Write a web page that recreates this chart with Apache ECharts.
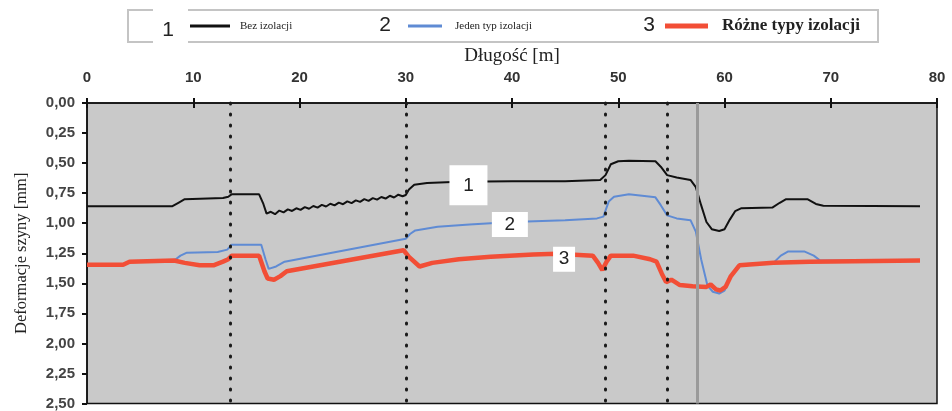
<!DOCTYPE html>
<html>
<head>
<meta charset="utf-8">
<script src="https://cdn.jsdelivr.net/npm/echarts@6/dist/echarts.min.js"></script>
<style>
  html, body { margin: 0; padding: 0; background: #fff; }
  #chart { width: 952px; height: 411px; }
</style>
</head>
<body>
<div id="chart"></div>
<script>
// dlugosc [m] i deformacja [mm]
var xTicks = [0, 10, 20, 30, 40, 50, 60, 70, 80];
var yTicks = [0, 0.25, 0.5, 0.75, 1, 1.25, 1.5, 1.75, 2, 2.25, 2.5];
var seriesNames = ['Bez izolacji', 'Jeden typ izolacji', 'Różne typy izolacji'];

var blackX = [0, 8.0, 8.6, 9.2, 12.8, 13.3, 13.6, 16.2, 16.6, 16.9,
  17.3, 17.7, 18.1, 18.5, 18.9, 19.3, 19.7, 20.1, 20.5, 20.9, 21.3, 21.7, 22.1,
  22.5, 22.9, 23.3, 23.7, 24.1, 24.5, 24.9, 25.3, 25.7, 26.1, 26.5, 26.9, 27.3,
  27.7, 28.1, 28.5, 28.9, 29.3, 29.7, 30.0,
  30.3, 30.8, 32, 35, 40, 45, 48.3, 48.8, 49.3, 50, 51, 53.5, 54.0, 54.6, 55.5,
  56.8, 57.3, 57.8, 58.3, 58.8, 59.5, 60.0, 60.5, 61.0, 61.6, 64.5, 65.2, 65.8,
  67.8, 68.6, 69.3, 78.4];
var blackY = [0.86, 0.86, 0.83, 0.80, 0.79, 0.78, 0.76, 0.76, 0.84, 0.92,
  0.905, 0.925, 0.895, 0.91, 0.885, 0.898, 0.876, 0.889, 0.866, 0.880, 0.857, 0.870, 0.848,
  0.861, 0.838, 0.852, 0.829, 0.842, 0.819, 0.833, 0.810, 0.823, 0.800, 0.814, 0.791, 0.804,
  0.782, 0.795, 0.772, 0.786, 0.763, 0.776, 0.765,
  0.72, 0.68, 0.665, 0.655, 0.65, 0.65, 0.64, 0.60, 0.51, 0.485, 0.48, 0.485, 0.53, 0.60, 0.62,
  0.64, 0.70, 0.85, 0.99, 1.05, 1.065, 1.05, 0.97, 0.90, 0.875, 0.87, 0.83, 0.80,
  0.80, 0.84, 0.855, 0.86];

var blueX = [0, 3.4, 4.0, 8.2, 8.8, 9.4, 12.3, 13.2, 13.6, 16.4, 16.8, 17.1, 17.8,
  18.6, 30.0, 30.4, 30.9, 33, 36, 40, 45, 48.0, 48.6, 49.1, 49.6, 51, 53.5, 54.0,
  54.6, 55.5, 56.8, 57.3, 57.8, 58.4, 58.9, 59.5, 60.0, 60.5, 61.2, 62, 64.6, 65.3,
  66, 67.5, 68.4, 69, 78.4];
var blueY = [1.345, 1.345, 1.32, 1.31, 1.27, 1.245, 1.24, 1.22, 1.18, 1.18, 1.30, 1.38, 1.36,
  1.32, 1.13, 1.09, 1.06, 1.03, 1.01, 0.99, 0.975, 0.96, 0.945, 0.82, 0.78, 0.76, 0.785, 0.85,
  0.935, 0.96, 0.975, 1.07, 1.30, 1.52, 1.57, 1.585, 1.56, 1.46, 1.36, 1.34, 1.33, 1.27,
  1.235, 1.235, 1.27, 1.31, 1.31];

var redX = [0, 3.4, 4.0, 8.2, 9.2, 10.6, 11.9, 12.8, 13.3, 13.6, 16.2, 16.7, 17.0, 17.6,
  18.2, 18.8, 29.8, 30.3, 31.3, 32.5, 35, 38, 42, 44.2, 47.6, 48.1, 48.5, 48.9, 49.3,
  51.4, 53.0, 53.6, 54.1, 54.5, 55.0, 55.8, 57, 58.3, 58.7, 59.2, 59.6, 60.1, 60.6,
  61.4, 64.6, 68, 78.4];
var redY = [1.345, 1.345, 1.32, 1.31, 1.33, 1.35, 1.35, 1.32, 1.30, 1.27, 1.27, 1.40, 1.46, 1.47,
  1.44, 1.40, 1.225, 1.28, 1.36, 1.33, 1.30, 1.28, 1.26, 1.255, 1.27, 1.33, 1.39, 1.32, 1.27,
  1.27, 1.30, 1.32, 1.42, 1.49, 1.47, 1.515, 1.525, 1.53, 1.51, 1.55, 1.56, 1.53, 1.44,
  1.35, 1.33, 1.32, 1.31];

// granice odcinkow (kropkowane) i szara linia
var dottedX = [13.45, 30.0, 48.8, 54.6];
var greyX = [57.4];

// etykiety 1, 2, 3 na wykresie [x, y]
var tagText = ['1', '2', '3'];
var tagPos = [[35.9, 0.685], [39.8, 1.01], [44.9, 1.30]];
var tagSize = [[38, 40], [36, 25], [22, 25]];

function zip(xs, ys) {
  return xs.map(function (x, i) { return [x, ys[i]]; });
}

function fmtComma(v) {
  return v.toFixed(2).replace('.', ',');
}

var serif = '"Liberation Serif", "DejaVu Serif", serif';
var sans = '"Liberation Sans", Arial, sans-serif';

function legendFor(name, left, top, w, h, size, gap, lh, weight) {
  return {
    data: [name],
    left: left,
    top: top,
    padding: 0,
    icon: 'rect',
    itemWidth: w,
    itemHeight: h,
    selectedMode: false,
    textStyle: {
      fontFamily: serif,
      fontSize: size,
      fontWeight: weight || 'normal',
      lineHeight: lh,
      color: '#222',
      padding: [0, 0, 0, gap]
    }
  };
}

function numText(t, x, y) {
  return { type: 'text', x: x, y: y, style: { text: t, font: '21px ' + sans, fill: '#222', align: 'center', verticalAlign: 'middle' } };
}

var chart = echarts.init(document.getElementById('chart'));

var markLines = dottedX.map(function (x) {
  return { xAxis: x, lineStyle: { type: [1, 10], cap: 'round', width: 3, color: '#1a1a1a' } };
}).concat(greyX.map(function (x) {
  return { xAxis: x, lineStyle: { type: 'solid', width: 3, color: '#9a9a9a' } };
}));

var tagPoints = tagText.map(function (t, i) {
  return {
    coord: tagPos[i],
    symbol: 'rect',
    symbolSize: tagSize[i],
    itemStyle: { color: '#fff' },
    label: { show: true, formatter: t, position: 'inside', fontSize: 19, fontFamily: sans, color: '#222' }
  };
});

var option = {
  animation: false,
  backgroundColor: '#fff',
  legend: [
    legendFor(seriesNames[0], 190, 19, 40, 3, 11, 5, 14),
    legendFor(seriesNames[1], 408, 19, 34, 3, 11, 8, 14),
    legendFor(seriesNames[2], 665, 16, 43, 5, 17, 9, 20, 'bold')
  ],
  graphic: [
    // ramka legendy, przerwana przy "1"
    { type: 'polyline', shape: { points: [[153, 10], [128, 10], [128, 42], [153, 42]] }, style: { fill: 'none', stroke: '#c4c4c4', lineWidth: 2 } },
    { type: 'polyline', shape: { points: [[188, 10], [878, 10], [878, 42], [188, 42]] }, style: { fill: 'none', stroke: '#c4c4c4', lineWidth: 2 } },
    numText('1', 168, 30),
    numText('2', 385, 25),
    numText('3', 649, 25)
  ],
  grid: {
    left: 87, right: 15, top: 103, bottom: 5,
    show: true,
    backgroundColor: '#c9c9c9',
    borderColor: '#111',
    borderWidth: 1.5
  },
  xAxis: [{
    type: 'value',
    position: 'top',
    min: xTicks[0],
    max: xTicks[xTicks.length - 1],
    interval: 10,
    name: 'Długość [m]',
    nameLocation: 'middle',
    nameGap: 29,
    nameTextStyle: { fontFamily: serif, fontSize: 19, color: '#222' },
    axisLine: { lineStyle: { color: '#111', width: 1.5 } },
    axisTick: { length: 5, lineStyle: { color: '#111', width: 2 } },
    axisLabel: { margin: 18, fontFamily: sans, fontWeight: 'bold', fontSize: 15, color: '#333' },
    splitLine: { show: false }
  }, {
    // drugie ticki do srodka
    type: 'value',
    position: 'top',
    min: xTicks[0],
    max: xTicks[xTicks.length - 1],
    interval: 10,
    axisLine: { show: false },
    axisTick: { inside: true, length: 5, lineStyle: { color: '#111', width: 2 } },
    axisLabel: { show: false },
    splitLine: { show: false }
  }],
  yAxis: {
    type: 'value',
    inverse: true,
    min: yTicks[0],
    max: yTicks[yTicks.length - 1],
    interval: 0.25,
    name: 'Deformacje szyny [mm]',
    nameLocation: 'middle',
    nameGap: 57,
    nameTextStyle: { fontFamily: serif, fontSize: 16.5, color: '#222' },
    axisLine: { show: true, lineStyle: { color: '#111', width: 1.5 } },
    axisTick: { show: true, length: 5, lineStyle: { color: '#111', width: 2 } },
    axisLabel: { margin: 12, fontFamily: sans, fontWeight: 'bold', fontSize: 15, color: '#444', formatter: fmtComma },
    splitLine: { show: false }
  },
  series: [
    {
      name: 'granice',
      type: 'line',
      data: [],
      silent: true,
      z: 1,
      markLine: { silent: true, symbol: 'none', label: { show: false }, data: markLines }
    },
    {
      name: seriesNames[0],
      type: 'line',
      symbol: 'none',
      z: 3,
      color: '#111',
      lineStyle: { color: '#111', width: 2 },
      data: zip(blackX, blackY)
    },
    {
      name: seriesNames[1],
      type: 'line',
      symbol: 'none',
      z: 3,
      color: '#5f8bd4',
      lineStyle: { color: '#5f8bd4', width: 2 },
      data: zip(blueX, blueY)
    },
    {
      name: seriesNames[2],
      type: 'line',
      symbol: 'none',
      z: 4,
      color: '#f24e36',
      lineStyle: { color: '#f24e36', width: 4.5 },
      data: zip(redX, redY),
      markPoint: { silent: true, data: tagPoints }
    }
  ]
};

chart.setOption(option);
</script>
</body>
</html>
